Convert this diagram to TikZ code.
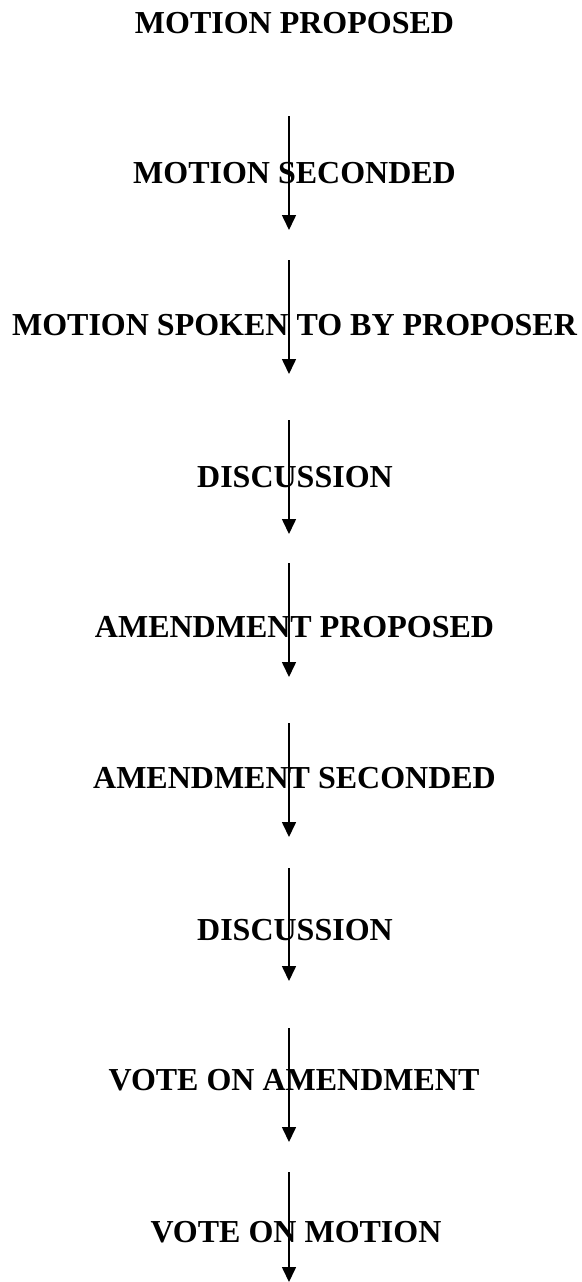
\documentclass[tikz,border=0pt]{standalone}
\usepackage{fontspec}
\setmainfont{Liberation Serif}
\usetikzlibrary{arrows.meta}
\begin{document}
\begin{tikzpicture}[x=1pt,y=-1pt,
  lbl/.style={anchor=base,inner sep=0pt,font=\fontsize{32}{38}\selectfont\bfseries},
  flow/.style={line width=1.6pt,-{Triangle[width=14pt,length=15pt]}}]
\useasboundingbox (0,0) rectangle (581,1282);
\node[lbl] (t1) at (294.5,33) {MOTION PROPOSED};
\node[lbl] (t2) at (294.5,183) {MOTION SECONDED};
\node[lbl] (t3) at (294.5,335) {MOTION SPOKEN TO BY PROPOSER};
\node[lbl] (t4) at (295,487) {DISCUSSION};
\node[lbl] (t5) at (294.5,637) {AMENDMENT PROPOSED};
\node[lbl] (t6) at (294.5,788) {AMENDMENT SECONDED};
\node[lbl] (t7) at (295,940) {DISCUSSION};
\node[lbl] (t8) at (294,1090) {VOTE ON AMENDMENT};
\node[lbl] (t9) at (296,1242) {VOTE ON MOTION};
\coordinate (s1) at (289,116);  \coordinate (e1) at (289,230);
\coordinate (s2) at (289,260);  \coordinate (e2) at (289,374);
\coordinate (s3) at (289,420);  \coordinate (e3) at (289,534);
\coordinate (s4) at (289,563);  \coordinate (e4) at (289,677);
\coordinate (s5) at (289,723);  \coordinate (e5) at (289,837);
\coordinate (s6) at (289,868);  \coordinate (e6) at (289,981);
\coordinate (s7) at (289,1028); \coordinate (e7) at (289,1142);
\coordinate (s8) at (289,1172); \coordinate (e8) at (289,1282);
\foreach \i in {1,...,8}{\draw[flow] (s\i) -- (e\i);}
\end{tikzpicture}
\end{document}
